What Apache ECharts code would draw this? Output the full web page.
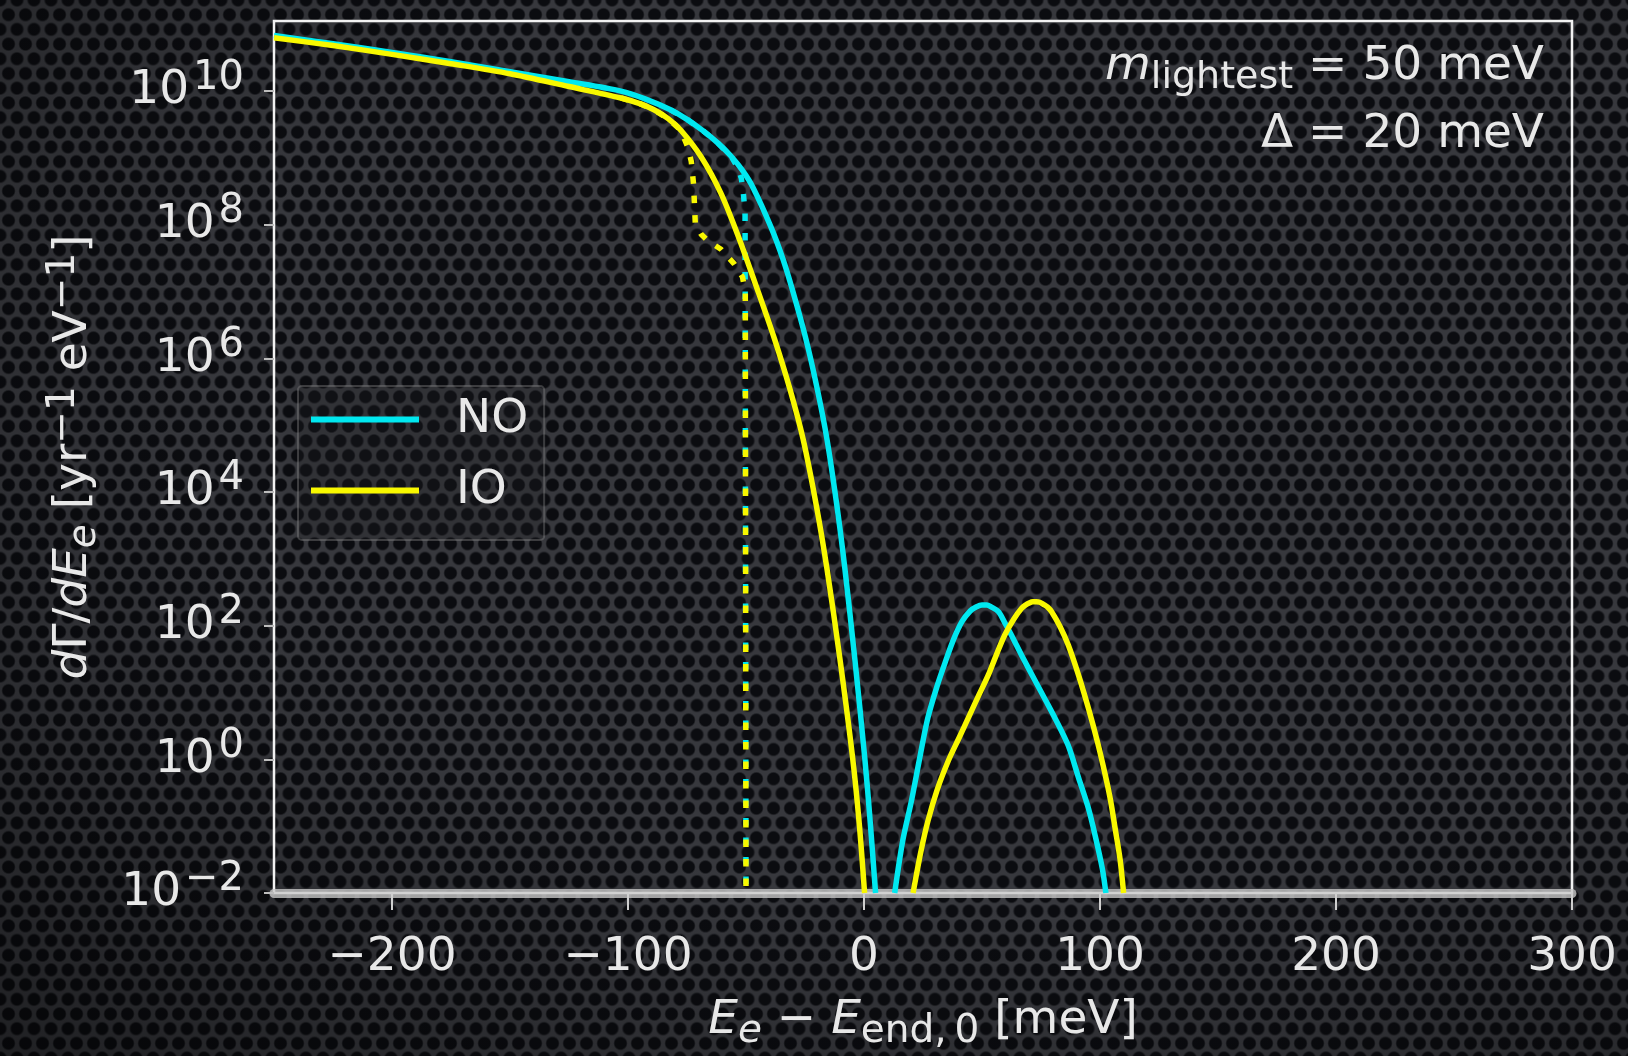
<!DOCTYPE html>
<html>
<head>
<meta charset="utf-8">
<script src="https://cdn.jsdelivr.net/npm/echarts@6/dist/echarts.min.js"></script>
<style>
  html, body { margin: 0; padding: 0; background: #1d1e22; }
  #chart {
    width: 1628px; height: 1056px;
    background-color: #37383d;
    background-image:
      radial-gradient(ellipse 95% 95% at 62% 38%, rgba(0,0,0,0) 50%, rgba(0,0,0,0.5) 100%),
      radial-gradient(circle at 50% 50%, #0b0c10 0, #0b0c10 5.6px, rgba(11,12,16,0) 7.2px),
      radial-gradient(circle at 50% 50%, #0b0c10 0, #0b0c10 5.6px, rgba(11,12,16,0) 7.2px);
    background-size: 100% 100%, 17px 29.4px, 17px 29.4px;
    background-position: 0 0, 0 0, 8.5px 14.7px;
    background-repeat: no-repeat, repeat, repeat;
  }
</style>
</head>
<body>
<div id="chart"></div>
<script>
// Smeared spectrum, normal ordering (E_e - E_end,0 in meV, rate in yr^-1 eV^-1)
const noEnergy = [-250, -225, -200, -175, -150, -125, -103, -92.5, -82, -75, -68, -62, -56.4, -51.5, -47.1, -39.4, -34.3, -30.4, -24.6, -19.8, -15.7, -11.5, -8.1, -3.9, 0.34, 2.7, 4.9,
                  9,
                  13, 16.5, 20, 23.5, 27, 31, 34.5, 38, 41.5, 45, 47.5, 50, 52, 54, 57, 60, 62.5, 67, 72, 77, 81, 86.5, 91, 95, 98, 101, 102.5];
const noRate = [6.8e10, 5.1e10, 3.8e10, 2.75e10, 1.95e10, 1.38e10, 1.0e10, 7.6e9, 5.25e9, 3.78e9, 2.52e9, 1.68e9, 1.07e9, 6.5e8, 3.65e8, 9.2e7, 3.03e7, 1.08e7, 1.94e6, 3.48e5, 6.2e4, 6.3e3, 714, 32, 1.04, 0.108, 0.01,
                null,
                0.01, 0.063, 0.23, 1.0, 4.1, 12.6, 29, 63, 115, 166, 190, 204, 204, 190, 162, 105, 72, 35, 16.2, 7.6, 4.1, 1.62, 0.52, 0.19, 0.071, 0.023, 0.01];

// Smeared spectrum, inverted ordering
const ioEnergy = [-250, -225, -200, -175, -150, -125, -103, -95, -89, -83, -77.6, -69.1, -60.7, -53.4, -45.2, -37.9, -31.4, -25.8, -20.2, -15.7, -10.2, -4.8, -2, 0.25,
                  10,
                  20.8, 24, 27.1, 31, 35.6, 40, 44.1, 48.5, 52.6, 56, 59.6, 63.5, 66.8, 68.5, 70, 71.5, 73, 74.5, 76, 77.8, 79.5, 83, 86.6, 91, 95.1, 99, 102.2, 104.5, 106.4, 108.5, 110];
const ioRate = [6.3e10, 4.8e10, 3.55e10, 2.57e10, 1.82e10, 1.17e10, 7.9e9, 6.5e9, 5.26e9, 3.87e9, 2.6e9, 1.05e9, 3.0e8, 6.9e7, 1.08e7, 1.94e6, 3.48e5, 6.2e4, 6.3e3, 714, 32, 1.04, 0.108, 0.01,
                null,
                0.01, 0.04, 0.12, 0.35, 0.93, 2.0, 4.1, 8.9, 18, 36, 72, 126, 182, 204, 219, 229, 229, 224, 209, 190, 162, 98, 51, 17.8, 5.8, 1.78, 0.59, 0.24, 0.093, 0.032, 0.01];

// Unsmeared spectra (dotted), ending at the kinematic endpoints
const noExactEnergy = [-82, -75, -68, -62, -56.4, -53.5, -52, -51.2, -50.4, -50];
const noExactRate = [5.25e9, 3.78e9, 2.52e9, 1.68e9, 1.07e9, 7.2e8, 5.0e8, 3.2e8, 1.5e8, 0.01];
const ioExactEnergy = [-103, -95, -89, -83, -77.6, -74.5, -73.2, -72.2, -71.5, -69, -66.3, -60.6, -55, -51.5, -50.3, -50];
const ioExactRate = [7.9e9, 6.5e9, 5.26e9, 3.87e9, 2.6e9, 1.41e9, 8.9e8, 4.0e8, 1.07e8, 7.2e7, 5.8e7, 4.3e7, 2.6e7, 1.66e7, 1.0e7, 0.01];

// Axis ticks
const xTicks = [-200, -100, 0, 100, 200, 300];
const yTicks = [1e-2, 1, 1e2, 1e4, 1e6, 1e8, 1e10];

const CYAN = '#00e8f0';
const YELLOW = '#f8f800';
const TEXT = '#e8e8e8';
const FONT = 'DejaVu Sans';

const pairs = (xs, ys) => xs.map((x, i) => [x, ys[i]]);
const minusSign = n => (n < 0 ? '\u2212' + (-n) : String(n));

const chart = echarts.init(document.getElementById('chart'), null, { renderer: 'canvas' });

const solidLine = (name, color, xs, ys) => ({
  name, type: 'line', data: pairs(xs, ys),
  symbol: 'none', showSymbol: false, connectNulls: false, smooth: 0.3,
  itemStyle: { color }, lineStyle: { color, width: 5.5, join: 'round' },
  clip: true, animation: false
});
const dottedLine = (name, color, xs, ys) => ({
  name, type: 'line', data: pairs(xs, ys),
  symbol: 'none', showSymbol: false,
  itemStyle: { color }, lineStyle: { color, width: 5.5, type: [7.5, 12], cap: 'butt' },
  clip: true, animation: false, silent: true
});

// rich-text pieces shared by the axis titles
const mainTok = { fontSize: 47, lineHeight: 60, color: TEXT, fontFamily: FONT };
const italTok = Object.assign({}, mainTok, { fontStyle: 'italic' });
const subTok = { fontSize: 39, lineHeight: 36, verticalAlign: 'bottom', color: TEXT, fontFamily: FONT };
const subItalTok = Object.assign({}, subTok, { fontStyle: 'italic' });
const supTok = { fontSize: 39, lineHeight: 39, verticalAlign: 'top', color: TEXT, fontFamily: FONT };

const option = {
  backgroundColor: 'transparent',
  animation: false,
  grid: {
    left: 274, top: 21, width: 1298, height: 875.5,
    show: true, borderColor: '#f2f2f2', borderWidth: 2.5, backgroundColor: 'transparent'
  },
  xAxis: {
    type: 'value', min: -250, max: 300,
    name: '{i|E}{si|e}{n| \u2212 }{i|E}{s|end,\u20090}{n| [meV]}',
    nameLocation: 'middle', nameGap: 98,
    nameTextStyle: {
      color: TEXT, fontFamily: FONT,
      rich: { i: italTok, n: mainTok, si: subItalTok, s: subTok }
    },
    axisLine: { show: true, onZero: false, lineStyle: { color: 'rgba(200,200,200,0.8)', width: 9 } },
    axisTick: { show: true, customValues: xTicks, length: 17, lineStyle: { color: '#cfcfcf', width: 2 } },
    axisLabel: {
      customValues: xTicks, margin: 41,
      color: TEXT, fontFamily: FONT, fontSize: 47, lineHeight: 47,
      formatter: v => minusSign(v)
    },
    splitLine: { show: false }
  },
  yAxis: {
    type: 'log', logBase: 10, min: 1e-2, max: 1.12e11,
    name: '{i|d}{n|\u0393/}{i|dE}{si|e}{n| [yr}{sup|\u22121}{n| eV}{sup|\u22121}{n|]}',
    nameLocation: 'middle', nameGap: 170,
    nameTextStyle: {
      color: TEXT, fontFamily: FONT,
      rich: { i: italTok, n: mainTok, si: subItalTok, sup: supTok }
    },
    axisLine: { show: false, onZero: false },
    axisTick: { show: true, customValues: yTicks, length: 10, lineStyle: { color: '#bdbdbd', width: 2 } },
    minorTick: { show: false },
    axisLabel: {
      customValues: yTicks, margin: 30,
      formatter: v => '{b|10}{e|' + minusSign(Math.round(Math.log10(v))) + '}',
      rich: {
        b: { fontSize: 47, lineHeight: 66, color: TEXT, fontFamily: FONT },
        e: { fontSize: 40, lineHeight: 40, verticalAlign: 'top', padding: [0, 0, 0, 4], color: TEXT, fontFamily: FONT }
      }
    },
    splitLine: { show: false }
  },
  legend: {
    data: ['NO', 'IO'], orient: 'vertical', left: 298, top: 386,
    icon: 'rect', itemWidth: 108, itemHeight: 6, itemGap: 24,
    padding: [10, 16, 26, 13],
    borderColor: 'rgba(150,150,150,0.35)', borderWidth: 2, borderRadius: 4,
    backgroundColor: 'rgba(30,30,35,0.25)',
    selectedMode: false,
    textStyle: { color: TEXT, fontSize: 47, lineHeight: 47, fontFamily: FONT, padding: [0, 0, 0, 32] }
  },
  graphic: [
    {
      type: 'text', x: 1544, y: 67, silent: true,
      style: {
        text: '{i|m}{s|lightest}{n| = 50 meV}',
        align: 'right', verticalAlign: 'middle',
        rich: {
          i: { fontSize: 47, lineHeight: 60, fontStyle: 'italic', fill: TEXT, fontFamily: FONT },
          s: { fontSize: 38, lineHeight: 34, verticalAlign: 'bottom', fill: TEXT, fontFamily: FONT },
          n: { fontSize: 47, lineHeight: 60, fill: TEXT, fontFamily: FONT }
        }
      }
    },
    {
      type: 'text', x: 1544, y: 135, silent: true,
      style: {
        text: '\u0394 = 20 meV', align: 'right', verticalAlign: 'middle',
        fontSize: 47, fill: TEXT, fontFamily: FONT
      }
    }
  ],
  series: [
    dottedLine('NO unsmeared', CYAN, noExactEnergy, noExactRate),
    dottedLine('IO unsmeared', YELLOW, ioExactEnergy, ioExactRate),
    solidLine('NO', CYAN, noEnergy, noRate),
    solidLine('IO', YELLOW, ioEnergy, ioRate)
  ]
};

chart.setOption(option);
</script>
</body>
</html>
